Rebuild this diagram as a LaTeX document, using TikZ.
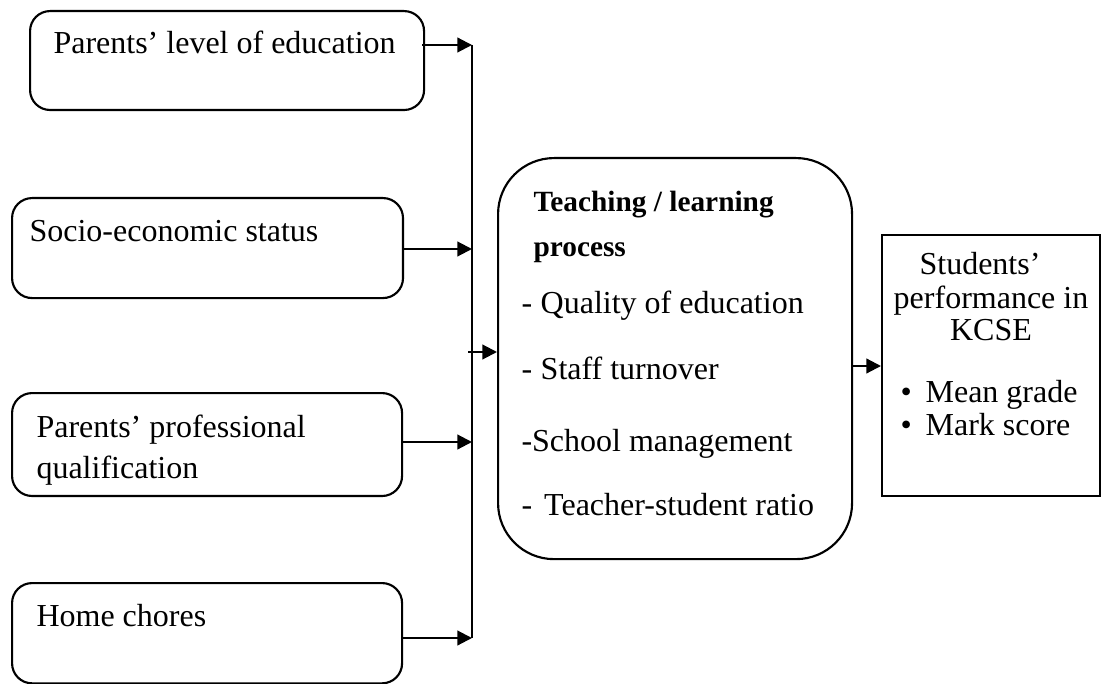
\documentclass[tikz,border=0pt]{standalone}
\usepackage{fontspec}
\setmainfont{Liberation Serif}
\usetikzlibrary{arrows.meta}
\begin{document}
\begin{tikzpicture}[x=0.375pt,y=-0.375pt,
  box/.style={draw, line width=0.8pt, rounded corners=7.5pt, anchor=north west, inner sep=0pt},
  bigbox/.style={draw, line width=0.8pt, rounded corners=21pt, anchor=north west, inner sep=0pt},
  sqbox/.style={draw, line width=0.8pt, anchor=north west, inner sep=0pt},
  txt/.style={anchor=base west, inner sep=0pt, font=\fontsize{12}{14}\selectfont},
  btxt/.style={anchor=base west, inner sep=0pt, font=\fontsize{11}{13}\selectfont\bfseries},
  arr/.style={line width=0.8pt, -{Triangle[length=5.5pt,width=5.5pt]}},
  bus/.style={line width=0.8pt}]
\useasboundingbox (0,0) rectangle (1101,684);
% left boxes
\node[box, minimum width=147.75pt, minimum height=37.1pt] (b1) at (29,10) {};
\node[box, minimum width=146.6pt, minimum height=37.5pt] (b2) at (11,197) {};
\node[box, minimum width=146.25pt, minimum height=38.6pt] (b3) at (11,392) {};
\node[box, minimum width=146.25pt, minimum height=37.6pt] (b4) at (11,582) {};
% center box
\node[bigbox, minimum width=132.75pt, minimum height=150.4pt] (cb) at (497,157) {};
% right box
\node[sqbox, minimum width=81.75pt, minimum height=97.9pt] (rb) at (881,234) {};
% texts left
\node[txt] (t1) at (53,54) {Parents’ level of education};
\node[txt] (t2) at (29,241) {Socio-economic status};
\node[txt] (t3a) at (36,437) {Parents’ professional};
\node[txt] (t3b) at (36,478) {qualification};
\node[txt] (t4) at (36,626) {Home chores};
% center texts
\node[btxt] (c1) at (533,212) {Teaching / learning};
\node[btxt] (c2) at (533,257) {process};
\node[txt] (c3) at (521,313) {-\hspace{3.2pt}Quality of education};
\node[txt] (c4) at (521,379) {-\hspace{3.2pt}Staff turnover};
\node[txt] (c5) at (521,451) {-School management};
\node[txt] (c6) at (521,515) {-\hspace{4.5pt}Teacher-student ratio};
% right texts
\node[txt, anchor=base] (r1) at (980,275) {Students’};
\node[txt, anchor=base] (r2) at (991,308) {performance in};
\node[txt, anchor=base] (r3) at (991,340) {KCSE};
\node[txt] (r4) at (900,402) {•\hspace{5.2pt}Mean grade};
\node[txt] (r5) at (900,435) {•\hspace{5.2pt}Mark score};
% bus
\coordinate (j1) at (472,45);
\coordinate (j2) at (472,249);
\coordinate (j3) at (472,442);
\coordinate (j4) at (472,638);
\draw[bus] (j1) -- (j4);
\draw[arr] (b1.east |- j1) ++(-3,0) -- (j1);
\draw[arr] (b2.east |- j2) -- (j2);
\draw[arr] (b3.east |- j3) -- (j3);
\draw[arr] (b4.east |- j4) -- (j4);
\coordinate (cin) at (468,352);
\draw[arr] (cin) -- (cin -| cb.west);
\coordinate (cout) at (851,366);
\draw[arr] (cout -| cb.east) -- (cout -| rb.west);
\end{tikzpicture}
\end{document}
